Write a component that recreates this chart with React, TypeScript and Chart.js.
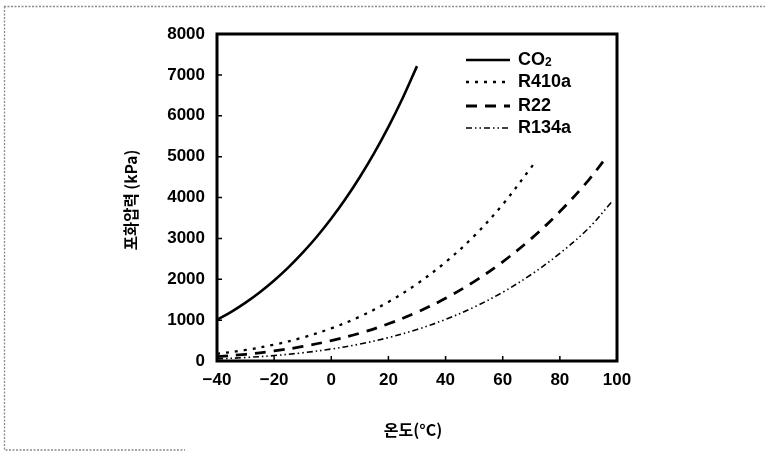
import React, { useEffect, useRef } from "react";
import { Chart, registerables } from "chart.js";

Chart.register(...registerables);

// ---- data ----
const seriesNames = ["CO2", "R410a", "R22", "R134a"];

const co2Temps = [-40, -35, -30, -25, -20, -15, -10, -5, 0, 5, 10, 15, 20, 25, 30];
const co2Press = [1005, 1202, 1428, 1683, 1970, 2290, 2649, 3046, 3485, 3969, 4502, 5086, 5729, 6434, 7214];

const r410aTemps = [-40, -30, -20, -10, 0, 10, 20, 30, 40, 50, 60, 70, 71];
const r410aPress = [175, 270, 400, 574, 799, 1086, 1445, 1886, 2419, 3058, 3828, 4741, 4840];

const r22Temps = [-40, -30, -20, -10, 0, 10, 20, 30, 40, 50, 60, 70, 80, 90, 96];
const r22Press = [105, 164, 245, 355, 498, 681, 910, 1192, 1534, 1943, 2427, 2995, 3655, 4421, 4960];

const r134aTemps = [-40, -30, -20, -10, 0, 10, 20, 30, 40, 50, 60, 70, 80, 90, 98];
const r134aPress = [51, 85, 133, 201, 293, 415, 572, 770, 1017, 1318, 1682, 2117, 2633, 3244, 3880];

const xTickValues = [-40, -20, 0, 20, 40, 60, 80, 100];
const xTickLabels = ["\u221240", "\u221220", "0", "20", "40", "60", "80", "100"];
const yTickValues = [0, 1000, 2000, 3000, 4000, 5000, 6000, 7000, 8000];
const yTickLabels = ["0", "1000", "2000", "3000", "4000", "5000", "6000", "7000", "8000"];

const xTitle = "온도(°C)";
const yTitle = "포화압력 (kPa)";

const toPoints = (xs: number[], ys: number[]) => xs.map((x, i) => ({ x, y: ys[i] }));

const FONT = "'Liberation Sans Narrow', 'Arial Narrow', 'Liberation Sans', sans-serif";
const KFONT = "'Noto Sans CJK KR', 'Noto Sans', sans-serif";

const styles = [
  { width: 2.6, dash: [] as number[] },
  { width: 2.3, dash: [3, 6] },
  { width: 2.8, dash: [11, 8] },
  { width: 1.6, dash: [6, 3, 1.5, 3, 1.5, 3] },
];

const decorPlugin = {
  id: "decor",
  afterDraw(chart: any) {
    const { ctx, chartArea } = chart;
    const { left, right, top, bottom } = chartArea;
    const xs = chart.scales.x;
    const ys = chart.scales.y;
    ctx.save();

    // outer dotted border
    ctx.strokeStyle = "#8a8a8a";
    ctx.lineWidth = 1.3;
    ctx.setLineDash([2, 1.5]);
    ctx.beginPath();
    ctx.moveTo(4, 6.5);
    ctx.lineTo(765, 6.5);
    ctx.moveTo(4.5, 6.5);
    ctx.lineTo(4.5, 450);
    ctx.lineTo(185, 450);
    ctx.stroke();
    ctx.setLineDash([]);

    // frame
    ctx.strokeStyle = "#000";
    ctx.lineWidth = 3;
    ctx.strokeRect(left, top, right - left, bottom - top);

    // inward tick marks
    ctx.lineWidth = 1.5;
    ctx.beginPath();
    yTickValues.forEach((v) => {
      const y = ys.getPixelForValue(v);
      ctx.moveTo(left, y);
      ctx.lineTo(left + 5, y);
    });
    xTickValues.forEach((v) => {
      const x = xs.getPixelForValue(v);
      ctx.moveTo(x, bottom);
      ctx.lineTo(x, bottom - 5);
    });
    ctx.stroke();

    // axis titles
    ctx.fillStyle = "#000";
    ctx.font = `bold 16px ${KFONT}`;
    ctx.textAlign = "center";
    ctx.textBaseline = "middle";
    ctx.fillText(xTitle, (left + right) / 2 - 4, 430);
    ctx.save();
    ctx.translate(131, 200);
    ctx.rotate(-Math.PI / 2);
    ctx.font = `bold 15.5px ${KFONT}`;
    ctx.fillText(yTitle, 0, 0);
    ctx.restore();

    // legend
    const lx0 = right - 151;
    const lx1 = right - 107;
    const tx = right - 99;
    const rows = [60, 82, 106, 128];
    chart.data.datasets.forEach((ds: any, i: number) => {
      const y = rows[i];
      ctx.strokeStyle = "#000";
      ctx.lineWidth = styles[i].width;
      ctx.setLineDash(styles[i].dash);
      ctx.beginPath();
      ctx.moveTo(lx0, y);
      ctx.lineTo(lx1, y);
      ctx.stroke();
      ctx.setLineDash([]);
      ctx.fillStyle = "#000";
      ctx.textAlign = "left";
      ctx.textBaseline = "middle";
      ctx.font = `bold 18px ${FONT}`;
      const name: string = ds.label;
      if (name === "CO2") {
        ctx.fillText("CO", tx, y);
        const w = ctx.measureText("CO").width;
        ctx.font = `bold 12px ${FONT}`;
        ctx.fillText("2", tx + w, y + 3);
      } else {
        ctx.fillText(name, tx, y);
      }
    });

    ctx.restore();
  },
};

export default function App() {
  const ref = useRef<HTMLCanvasElement | null>(null);

  useEffect(() => {
    if (!ref.current) return;
    const allData = [
      toPoints(co2Temps, co2Press),
      toPoints(r410aTemps, r410aPress),
      toPoints(r22Temps, r22Press),
      toPoints(r134aTemps, r134aPress),
    ];
    const chart = new Chart(ref.current, {
      type: "line",
      data: {
        datasets: seriesNames.map((name, i) => ({
          label: name,
          data: allData[i],
          borderColor: "#000",
          borderWidth: styles[i].width,
          borderDash: styles[i].dash,
          pointRadius: 0,
          fill: false,
          tension: 0.35,
        })),
      },
      options: {
        animation: false,
        responsive: false,
        maintainAspectRatio: false,
        layout: { padding: { left: 0, top: 34, right: 148, bottom: 0 } },
        plugins: {
          legend: { display: false },
          tooltip: { enabled: false },
        },
        scales: {
          x: {
            type: "linear",
            min: -40,
            max: 100,
            afterFit: (s: any) => {
              s.height = 91;
            },
            afterBuildTicks: (s: any) => {
              s.ticks = xTickValues.map((v) => ({ value: v }));
            },
            grid: { display: false, drawTicks: false },
            border: { display: false },
            ticks: {
              padding: 9,
              color: "#000",
              font: { family: FONT, size: 17, weight: "bold" },
              callback: (v: any) => {
                const i = xTickValues.indexOf(Number(v));
                return i >= 0 ? xTickLabels[i] : "";
              },
            },
          },
          y: {
            type: "linear",
            min: 0,
            max: 8000,
            afterFit: (s: any) => {
              s.width = 217;
            },
            afterBuildTicks: (s: any) => {
              s.ticks = yTickValues.map((v) => ({ value: v }));
            },
            grid: { display: false, drawTicks: false },
            border: { display: false },
            ticks: {
              padding: 12,
              color: "#000",
              font: { family: FONT, size: 17, weight: "bold" },
              callback: (v: any) => {
                const i = yTickValues.indexOf(Number(v));
                return i >= 0 ? yTickLabels[i] : "";
              },
            },
          },
        },
      },
      plugins: [decorPlugin],
    } as any);
    return () => chart.destroy();
  }, []);

  return (
    <div style={{ position: "fixed", left: 0, top: 0, width: 765, height: 452, background: "#fff" }}>
      <canvas ref={ref} width={765} height={452} style={{ width: 765, height: 452 }} />
    </div>
  );
}
